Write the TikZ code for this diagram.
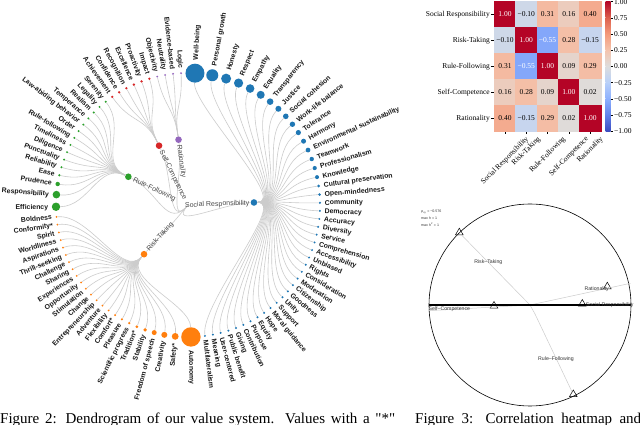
\documentclass[tikz,border=0pt]{standalone}
\usepackage{fontspec}
\setmainfont{Liberation Serif}
\setsansfont{Liberation Sans}
\usetikzlibrary{shapes.geometric}

\definecolor{colsr}{HTML}{1F77B4}
\definecolor{colrt}{HTML}{FF7F0E}
\definecolor{colrf}{HTML}{2CA02C}
\definecolor{colsc}{HTML}{D62728}
\definecolor{colra}{HTML}{9467BD}
\definecolor{linkgray}{HTML}{CCCCCC}
\definecolor{hmone}{RGB}{180,4,38}
\definecolor{hmmten}{RGB}{206,216,232}
\definecolor{hmmfifteen}{RGB}{199,213,238}
\definecolor{hmmfiftyfive}{RGB}{132,167,250}
\definecolor{hmtwo}{RGB}{223,219,217}
\definecolor{hmnine}{RGB}{229,212,204}
\definecolor{hmsixteen}{RGB}{236,204,189}
\definecolor{hmtwentyeight}{RGB}{244,191,167}
\definecolor{hmtwentynine}{RGB}{244,189,165}
\definecolor{hmthirtyone}{RGB}{244,186,161}
\definecolor{hmforty}{RGB}{244,171,143}
\definecolor{cwa}{RGB}{59,76,192}
\definecolor{cwb}{RGB}{98,130,234}
\definecolor{cwc}{RGB}{141,176,254}
\definecolor{cwd}{RGB}{184,208,249}
\definecolor{cwe}{RGB}{221,221,221}
\definecolor{cwf}{RGB}{244,196,173}
\definecolor{cwg}{RGB}{244,154,123}
\definecolor{cwh}{RGB}{221,96,77}
\definecolor{cwi}{RGB}{180,4,38}

\def\gapc{6.3}
\def\gapk{0.69}
\newcommand\leaflist{%
Well-being/9.5/sr, Personal growth/6/sr, Honesty/5/sr, Respect/4.6/sr, Empathy/4.3/sr,
Equality/4/sr, Transparency/3.3/sr, Justice/3/sr, Social cohesion/2.8/sr,
Work-life balance/2.7/sr, Tolerance/2.6/sr, Harmony/2.5/sr,
Environmental sustainability/2.4/sr, Teamwork/2.2/sr, Professionalism/2.1/sr,
Knowledge/2/sr, Cultural preservation/1.6/sr, Open-mindedness/1.4/sr, Community/1.2/sr,
Democracy/1.1/sr, Accuracy/1.1/sr, Diversity/1.1/sr, Service/1.1/sr,
Comprehension/1.1/sr, Accessibility/1.1/sr, Unbiased/1.1/sr, Rights/1.1/sr,
Consideration/1.1/sr, Moderation/1.1/sr, Citizenship/1.1/sr, Goodness/1.1/sr,
Unity/1.1/sr, Support/1.1/sr, Moral guidance/1.1/sr, Hope/1.1/sr, Equity/1.1/sr,
Purpose/1.1/sr, Contribution/1.1/sr, Giving/1.1/sr, Public benefit/1.1/sr,
User-centered/1.1/sr, Meaning/1.1/sr, Multilateralism/1.1/sr,
Autonomy/9.7/rt, Safety*/3.4/rt, Creativity/3/rt, Freedom of speech/2.5/rt,
Stability/1.8/rt, Tradition*/1.5/rt, Scientific progress/1.3/rt, Pleasure/1.2/rt,
Comfort*/1.1/rt, Flexibility/1/rt, Adventure/1/rt, Entrepreneurship/1/rt, Change/1/rt,
Stimulation/1/rt, Opportunity/1/rt, Experiences/1/rt, Sharing/1/rt, Challenge/1/rt,
Thrill-seeking/1/rt, Aspirations/1/rt, Worldliness/1/rt, Spirit/1/rt,
Conformity*/1/rt, Boldness/1/rt,
Efficiency/4.2/rf, Responsibility/3.8/rf, Prudence/2.2/rf, Ease/1.3/rf,
Reliability/1.2/rf, Punctuality/1.1/rf, Diligence/1.1/rf, Timeliness/1.1/rf,
Rule-following/1.1/rf, Order/1.1/rf, Law-abiding behavior/1.1/rf, Temperance/1.1/rf,
Realism/1.1/rf, Legality/1.1/rf, Serenity/1.1/rf,
Achievement/1.3/sc, Confidence/1.3/sc, Recognition/1.3/sc, Excellence/1.3/sc,
Proactivity/1.3/sc, Impact/1.3/sc,
Objectivity/1.1/ra, Neutrality/1.1/ra, Evidence-based/1.1/ra, Logic/1.1/ra}

\tikzset{
  link/.style={draw=linkgray,line width=0.6pt},
  leafdot/.style={circle,inner sep=0pt,draw=none},
  leaflab/.style={inner sep=0pt,text=black!90,font=\sffamily\bfseries\fontsize{6.9}{7}\selectfont},
  grouplab/.style={inner sep=0pt,text=black!70,font=\sffamily\fontsize{7}{8}\selectfont},
  cellbox/.style={minimum width=21.3pt,minimum height=26pt,inner sep=0pt,line width=0.3pt,
    font=\fontsize{7.5}{8}\selectfont},
  rowlab/.style={anchor=east,inner sep=0pt,font=\fontsize{7.5}{8}\selectfont},
  collab/.style={anchor=north,inner sep=0pt,font=\fontsize{7.5}{8}\selectfont},
  barlab/.style={anchor=west,inner sep=0pt,font=\fontsize{7.5}{8}\selectfont},
  tickmark/.style={line width=0.4pt},
  tri/.style={regular polygon,regular polygon sides=3,draw,line width=0.5pt,
    minimum size=9pt,inner sep=0pt},
  circlab/.style={inner sep=0pt,text=black!80,font=\sffamily\fontsize{5.2}{6}\selectfont},
  infolab/.style={anchor=west,inner sep=0pt,text=black!80,font=\sffamily\fontsize{3.6}{4}\selectfont},
  caption/.style={anchor=base west,inner sep=0pt,font=\fontsize{15}{17}\selectfont},
}

\begin{document}
\begin{tikzpicture}[x=1pt,y=1pt]
  \fill[white] (0,0) rectangle (640,425);
  \useasboundingbox (0,0) rectangle (640,425);

  % leaf angles, clockwise from the top
  \xdef\sumr{0}\xdef\nleaf{0}
  \foreach \lname/\lrad/\grp in \leaflist {
    \pgfmathparse{\sumr+\lrad}\xdef\sumr{\pgfmathresult}
    \pgfmathparse{int(\nleaf+1)}\xdef\nleaf{\pgfmathresult}
    \xdef\lastr{\lrad}
  }
  \pgfmathsetmacro\degpx{360/(\nleaf*\gapc+2*\gapk*\sumr)}
  \xdef\curang{0}\xdef\prevr{0}
  \foreach \lname/\lrad/\grp [count=\i] in \leaflist {
    \ifnum\i=1
      \pgfmathparse{\degpx*(\gapc+\gapk*(\lrad+\lastr))/2}
    \else
      \pgfmathparse{\curang+\degpx*(\gapc+\gapk*(\prevr+\lrad))}
    \fi
    \xdef\curang{\pgfmathresult}
    \xdef\prevr{\lrad}
    \expandafter\xdef\csname la\i\endcsname{\curang}
    \ifcsname fa\grp\endcsname\else
      \expandafter\xdef\csname fa\grp\endcsname{\curang}
    \fi
    \expandafter\xdef\csname za\grp\endcsname{\curang}
  }
  \foreach \g in {sr,rt,rf,sc,ra} {
    \edef\tmpa{\csname fa\g\endcsname}\edef\tmpb{\csname za\g\endcsname}
    \pgfmathsetmacro\tmpc{90-(\tmpa+\tmpb)/2}
    \expandafter\xdef\csname th\g\endcsname{\tmpc}
  }
  \pgfmathsetmacro\throot{(\thsr+\thra)/2}

  % dendrogram
  \begin{scope}[shift={(188,220)}]
    \coordinate (root) at (0,0);
    \foreach \g in {sr,rt,rf,sc,ra} {
      \edef\thg{\csname th\g\endcsname}
      \node[leafdot,fill=col\g,minimum size=6.6] (\g) at (\thg:66) {};
      \draw[link] (root) .. controls (\throot:33) and (\thg:33) .. (\g);
    }
    \node[grouplab,anchor=mid east,rotate=\thsr] (srlab) at (\thsr:61.5) {Social Responsibility};
    \node[grouplab,anchor=mid west,rotate=\thrt+180] (rtlab) at (\thrt:60.5) {Risk-Taking};
    \node[grouplab,anchor=mid west,rotate=\thrf+180] (rflab) at (\thrf:60.5) {Rule-Following};
    \node[grouplab,anchor=mid west,rotate=\thsc+180] (sclab) at (\thsc:60.5) {Self-Competence};
    \node[grouplab,anchor=mid west,rotate=\thra+180] (ralab) at (\thra:60.5) {Rationality};

    \foreach \lname/\lrad/\grp [count=\i] in \leaflist {
      \edef\acw{\csname la\i\endcsname}
      \edef\thp{\csname th\grp\endcsname}
      \pgfmathsetmacro\th{90-\acw}
      \pgfmathsetmacro\lr{135.5+\lrad}
      \node[leafdot,fill=col\grp,minimum size=2*\lrad] (leaf\i) at (\th:132) {};
      \draw[link] (\grp) .. controls (\thp:99) and (\th:99) .. (leaf\i);
      \ifdim\acw pt<180pt
        \node[leaflab,anchor=mid west,rotate=\th] (lab\i) at (\th:\lr) {\lname};
      \else
        \node[leaflab,anchor=mid east,rotate=\th+180] (lab\i) at (\th:\lr) {\lname};
      \fi
    }
  \end{scope}

  % heatmap
  \foreach \rlab [count=\i from 0] in {Social Responsibility,Risk-Taking,Rule-Following,Self-Competence,Rationality} {
    \node[rowlab] (row\i) at (490,{410.7-26*\i}) {\rlab};
    \draw[tickmark] (490.8,{410.7-26*\i}) -- (493.8,{410.7-26*\i});
    \node[collab] (col\i) at ({504.95+21.3*\i},289.5) {\rotatebox{45}{\rlab}};
    \draw[tickmark] ({504.95+21.3*\i},293.7) -- ({504.95+21.3*\i},290.8);
  }
  \foreach \hrow [count=\i from 0] in {
    {1.00/hmone/white,−0.10/hmmten/black,0.31/hmthirtyone/black,0.16/hmsixteen/black,0.40/hmforty/black},
    {−0.10/hmmten/black,1.00/hmone/white,−0.55/hmmfiftyfive/white,0.28/hmtwentyeight/black,−0.15/hmmfifteen/black},
    {0.31/hmthirtyone/black,−0.55/hmmfiftyfive/white,1.00/hmone/white,0.09/hmnine/black,0.29/hmtwentynine/black},
    {0.16/hmsixteen/black,0.28/hmtwentyeight/black,0.09/hmnine/black,1.00/hmone/white,0.02/hmtwo/black},
    {0.40/hmforty/black,−0.15/hmmfifteen/black,0.29/hmtwentynine/black,0.02/hmtwo/black,1.00/hmone/white}} {
    \foreach \hval/\hcol/\htxt [count=\j from 0] in \hrow {
      \node[cellbox,fill=\hcol,draw=\hcol,text=\htxt] (cell\i\j) at ({504.95+21.3*\j},{410.7-26*\i}) {\hval};
    }
  }

  % colour bar
  \foreach \lo/\hi [count=\k from 0] in {cwa/cwb,cwb/cwc,cwc/cwd,cwd/cwe,cwe/cwf,cwf/cwg,cwg/cwh,cwh/cwi} {
    \shade[bottom color=\lo,top color=\hi] (605.7,{293.7+16.2*\k}) rectangle (610.7,{293.7+16.2*(\k+1)+0.2});
  }
  \foreach \blab [count=\k from 0] in {−1.00,−0.75,−0.50,−0.25,0.00,0.25,0.50,0.75,1.00} {
    \draw[tickmark] (610.7,{293.7+16.2*\k}) -- (613,{293.7+16.2*\k});
    \node[barlab] (bar\k) at (614,{293.7+16.2*\k}) {\blab};
  }

  % circle plot
  \coordinate (cc) at (530,120);
  \draw[line width=0.6pt] (cc) circle[radius=101pt];
  \node[tri] (trt) at (459.3,192.3) {};
  \node[tri] (tsc) at (494,119) {};
  \node[tri] (tsr) at (582.3,121) {};
  \node[tri] (tra) at (607.3,138.3) {};
  \node[tri] (trf) at (573.3,30.5) {};
  \coordinate (rimra) at (630.5,141.7);
  \coordinate (rimsc) at (429,114.3);
  \coordinate (bendrf) at (535,111);
  \draw[linkgray,line width=0.5pt] (cc) -- (trt);
  \draw[linkgray,line width=0.5pt] (cc) -- (rimra);
  \draw[linkgray,line width=0.5pt] (cc) -- (rimsc);
  \draw[linkgray,line width=0.5pt] (cc) -- (bendrf) -- (trf);
  \draw[line width=1.2pt] (429,120) -- (631,120);
  \node[circlab] (lrt) at (488.3,163.3) {Risk--Taking};
  \node[circlab] (lra) at (596.7,135.7) {Rationality};
  \node[circlab,anchor=west] (lsr) at (585.7,119.6) {Social Responsibility};
  \node[circlab,anchor=west] (lsc) at (428.5,115.7) {Self--Competence};
  \node[circlab] (lrf) at (556,66) {Rule--Following};
  \node[infolab] (info1) at (421,212.7) {ρ\textsubscript{xy} = −0.576};
  \node[infolab] (info2) at (421,206.3) {max h = 1};
  \node[infolab] (info3) at (421,200.3) {max h\textsuperscript{2} = 1};

  % captions
  \node[caption] (cap2) at (0,1.5) {\makebox[395pt][s]{Figure 2: Dendrogram of our value system. Values with a {\addfontfeatures{Ligatures=TeXOff}"*"}}};
  \node[caption] (cap3) at (415,1.5) {\makebox[226pt][s]{Figure 3: Correlation heatmap and}};
\end{tikzpicture}
\end{document}
